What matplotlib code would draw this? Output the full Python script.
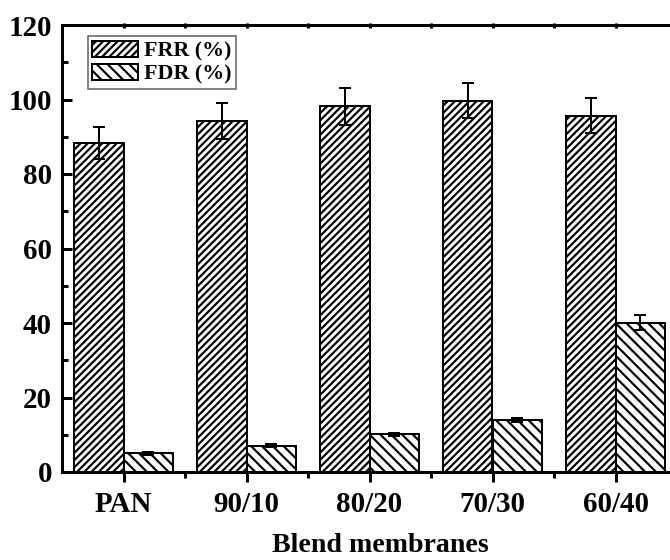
import numpy as np
import matplotlib
matplotlib.use("Agg")
import matplotlib.pyplot as plt
from matplotlib.ticker import MultipleLocator

# Data
categories = ["PAN", "90/10", "80/20", "70/30", "60/40"]
frr = [88.3, 94.2, 98.2, 99.7, 95.7]
frr_err = [4.4, 4.8, 5.0, 4.8, 4.7]
fdr = [5.0, 7.1, 10.1, 14.0, 40.1]
fdr_err = [0.4, 0.4, 0.5, 0.6, 2.0]

DPI = 130
PT = 72.0 / DPI  # pixels -> points

plt.rcParams["font.family"] = ["Liberation Serif", "DejaVu Serif"]
plt.rcParams["font.weight"] = "bold"
plt.rcParams["hatch.linewidth"] = 1.2
plt.rcParams["hatch.color"] = "black"

fig = plt.figure(figsize=(670 / DPI, 560 / DPI), dpi=DPI)
ax = fig.add_axes([62 / 670, 88 / 560, 615 / 670, 447 / 560])

x = np.arange(len(categories))
w = 0.4
err_kw = dict(ecolor="black", elinewidth=2 * PT, capsize=6 * PT,
              capthick=2 * PT)

ax.bar(x - w / 2, frr, w, yerr=frr_err, color="white", edgecolor="black",
       linewidth=2 * PT, hatch="//////", label="FRR (%)", error_kw=err_kw)
ax.bar(x + w / 2, fdr, w, yerr=fdr_err, color="white", edgecolor="black",
       linewidth=2 * PT, hatch="\\\\\\\\", label="FDR (%)", error_kw=err_kw)

ax.set_xlim(-0.5, 4.5)
ax.set_ylim(0, 120)
ax.set_xticks(x)
ax.set_xticklabels(categories)
ax.set_xticks(x[:-1] + 0.5, minor=True)
ax.yaxis.set_major_locator(MultipleLocator(20))
ax.yaxis.set_minor_locator(MultipleLocator(10))

for s in ax.spines.values():
    s.set_linewidth(3 * PT)

ax.tick_params(axis="x", which="major", direction="out", length=10 * PT,
               width=3 * PT, labelsize=29 * PT, pad=9 * PT)
ax.tick_params(axis="x", which="minor", direction="out", length=6 * PT,
               width=3 * PT)
ax.tick_params(axis="y", which="major", direction="in", length=10 * PT,
               width=3 * PT, labelsize=29 * PT, pad=10 * PT)
ax.tick_params(axis="y", which="minor", direction="in", length=6 * PT,
               width=3 * PT)

# small ticks along the top spine
top = ax.secondary_xaxis("top")
top.set_xticks(x)
top.set_xticks(x[:-1] + 0.5, minor=True)
top.tick_params(which="both", direction="inout", length=5 * PT, width=3 * PT,
                labeltop=False)
top.spines["top"].set_linewidth(3 * PT)

ax.set_xlabel("Blend membranes", fontsize=28 * PT, fontweight="bold")
ax.xaxis.set_label_coords(0.517, -0.136)

leg = ax.legend(loc="upper left", bbox_to_anchor=(0.042, 0.975),
                borderaxespad=0, fontsize=22 * PT, frameon=True,
                fancybox=False, edgecolor="#333333", handlelength=2.1,
                handleheight=0.75, handletextpad=0.25, labelspacing=0.1,
                borderpad=0.2)
leg.get_frame().set_linewidth(1.5 * PT)

fig.savefig("out.png", dpi=DPI)
